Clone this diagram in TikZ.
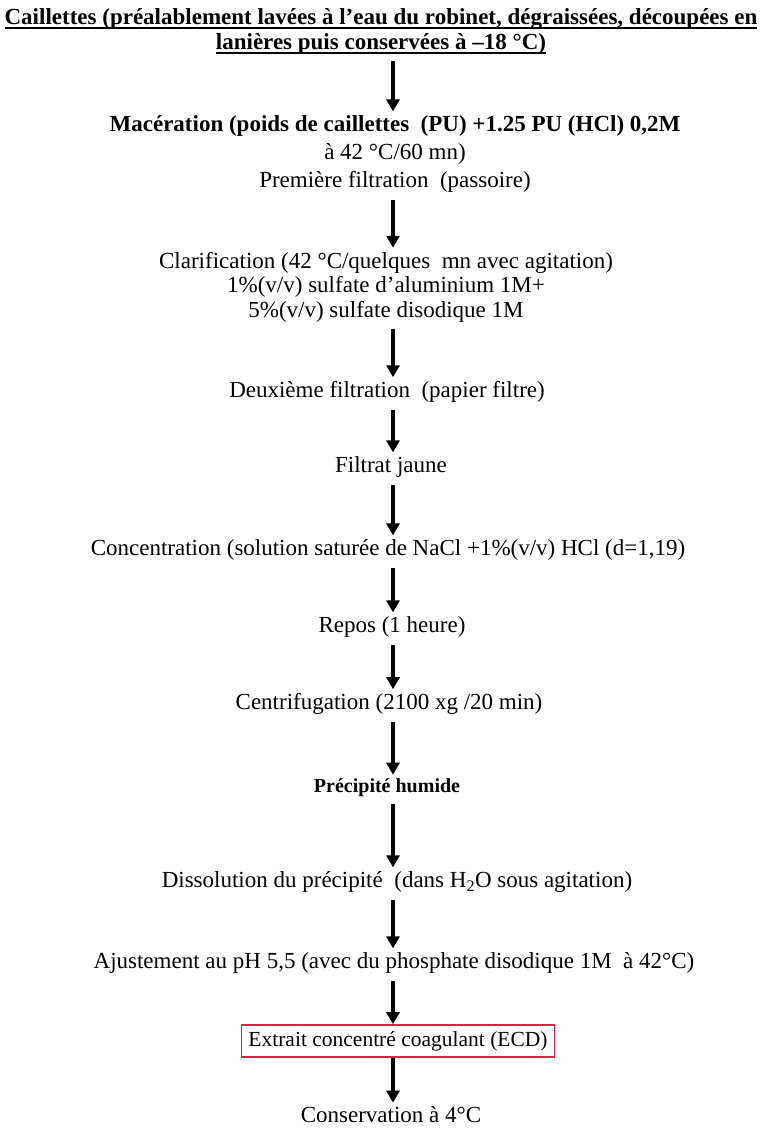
\documentclass[tikz,border=0pt]{standalone}
\usepackage{fontspec}
\setmainfont{Liberation Serif}
\usetikzlibrary{arrows.meta}
% thick underline for the heading
\newcommand\thickul[1]{\setbox0\hbox{#1}\rlap{\rule[-4.5pt]{\wd0}{1.6pt}}\box0}
\begin{document}
\begin{tikzpicture}[x=1pt,y=-1pt,
  every node/.style={inner sep=0pt, align=center, text=black},
  txt/.style={font=\fontsize{23}{25}\selectfont},
  heading/.style={font=\bfseries\fontsize{23}{25}\selectfont},
  small/.style={font=\bfseries\fontsize{20}{22}\selectfont},
  result/.style={font=\fontsize{21.5}{24}\selectfont,
    draw={rgb,255:red,215;green,35;blue,60}, line width=1.6pt,
    minimum width=313pt, minimum height=32pt},
  flow/.style={line width=3.8pt, -{Triangle[length=12pt,width=13pt]},
    shorten <=7pt, shorten >=4pt},
]
\useasboundingbox (0,0) rectangle (760,1129);
\coordinate (axis) at (393,0);

\node[heading] (cail) at (381,31) {\thickul{Caillettes (préalablement lavées à l'eau du robinet, dégraissées, découpées en}\\
  \thickul{lanières puis conservées à –18 °C)}};

\node[txt, font=\fontsize{23}{28}\selectfont] (mac) at (395,154)
  {\textbf{Macération (poids de caillettes\ \ (PU) +1.25 PU (HCl) 0,2M}\\
   à 42 °C/60 mn)\\
   Première filtration\ \ (passoire)};

\node[txt, font=\fontsize{23}{24.5}\selectfont] (clar) at (386,287)
  {Clarification (42 °C/quelques\ \ mn avec agitation)\\
   1\%(v/v) sulfate d'aluminium 1M+\\
   5\%(v/v) sulfate disodique 1M};

\node[txt] (filt2) at (387,392) {Deuxième filtration\ \ (papier filtre)};
\node[txt] (jaune) at (391,467) {Filtrat jaune};
\node[txt] (conc) at (388,550) {Concentration (solution saturée de NaCl +1\%(v/v) HCl (d=1,19)};
\node[txt] (repos) at (392,627) {Repos (1 heure)};
\node[txt] (centri) at (389,704) {Centrifugation (2100 xg /20 min)};
\node[small] (prec) at (387,788) {Précipité humide};
\node[txt] (dissol) at (397,882) {Dissolution du précipité\ \ (dans H\textsubscript{2}O sous agitation)};
\node[txt] (ajust) at (394,963) {Ajustement au pH 5,5 (avec du phosphate disodique 1M\ \ à 42°C)};
\node[result] (ecd) at (398,1041) {Extrait concentré coagulant (ECD)};
\node[txt] (cons) at (391,1115) {Conservation à 4°C};

\draw[flow] (cail.south -| axis) -- (mac.north -| axis);
\draw[flow] (mac.south -| axis) -- (clar.north -| axis);
\draw[flow] (clar.south -| axis) -- (filt2.north -| axis);
\draw[flow] (filt2.south -| axis) -- (jaune.north -| axis);
\draw[flow] (jaune.south -| axis) -- (conc.north -| axis);
\draw[flow] (conc.south -| axis) -- (repos.north -| axis);
\draw[flow] (repos.south -| axis) -- (centri.north -| axis);
\draw[flow] (centri.south -| axis) -- (prec.north -| axis);
\draw[flow] (prec.south -| axis) -- (dissol.north -| axis);
\draw[flow] (dissol.south -| axis) -- (ajust.north -| axis);
\draw[flow, shorten >=0pt] (ajust.south -| axis) -- (ecd.north -| axis);
\draw[flow, shorten <=0pt] (ecd.south -| axis) -- (cons.north -| axis);
\end{tikzpicture}
\end{document}
